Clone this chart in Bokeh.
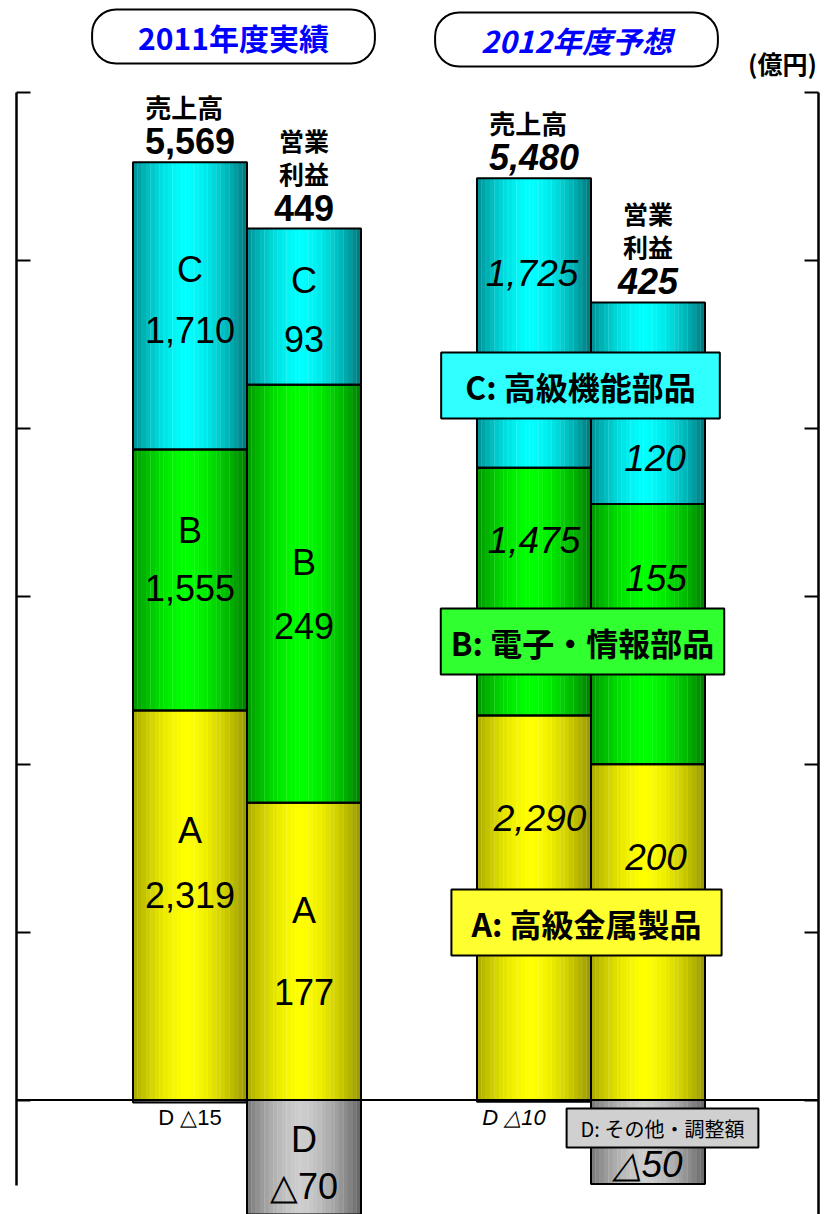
import pandas as pd
from bokeh.plotting import figure
from bokeh.models import ColumnDataSource, Range1d, LinearAxis, FixedTicker, Span, Label
from bokeh.transform import dodge
from bokeh.core.properties import value
from bokeh.embed import file_html
from bokeh.resources import INLINE

# ---------------- data ----------------
years = ["2011年度実績", "2012年度予想"]
measures = ["売上高", "営業利益"]
segments = ["A", "B", "C", "D"]
segment_names = ["高級金属製品", "電子・情報部品", "高級機能部品", "その他・調整額"]
sales_2011 = [2319, 1555, 1710, -15]
profit_2011 = [177, 249, 93, -70]
sales_2012 = [2290, 1475, 1725, -10]
profit_2012 = [200, 155, 120, -50]
unit_label = "(億円)"
tick_values = [0, 1000, 2000, 3000, 4000, 5000, 6000]

# ---------------- layout ----------------
W, H = 827, 1214
FRAME_L, FRAME_R = 16, 818
XU = 114.0                       # px per bar width
Y0PX = 1099.5                    # zero line (px from top)
PXU = (Y0PX - 92) / 6000.0       # px per sales unit
y_start = -(H - Y0PX) / PXU
y_end = Y0PX / PXU


def xdata(px):
    return (px - FRAME_L) / XU


def ydata(px):
    return (Y0PX - px) / PXU


group_center = [xdata(246.5), xdata(590.5)]

bright = {"A": (255, 255, 0), "B": (0, 255, 0), "C": (0, 255, 255), "D": (205, 205, 205)}
dark = {"A": (150, 150, 0), "B": (0, 125, 0), "C": (0, 118, 124), "D": (100, 100, 100)}
NSTRIP = 26


def shade(seg, t):
    b = 1 - (abs(t - 0.47) / 0.53) ** 1.6
    b = max(0.0, min(1.0, b))
    c0, c1 = dark[seg], bright[seg]
    return "#%02x%02x%02x" % tuple(int(round(a + (c - a) * b)) for a, c in zip(c0, c1))


def fmt(v):
    return f"{v:,}" if v >= 0 else "△" + f"{-v:,}"


p = figure(width=W, height=H, x_range=Range1d(0, (FRAME_R - FRAME_L) / XU),
           y_range=Range1d(y_start, y_end), output_backend="svg",
           toolbar_location=None, x_axis_location=None,
           min_border_left=FRAME_L, min_border_right=W - FRAME_R,
           min_border_top=0, min_border_bottom=0)
p.extra_y_ranges = {"profit": Range1d(y_start / 10.0, y_end / 10.0)}
p.xgrid.visible = False
p.ygrid.visible = False
p.outline_line_color = None
p.background_fill_color = "white"
p.border_fill_color = "white"

# axes
lax = p.yaxis[0]
rax = LinearAxis()
p.add_layout(rax, "right")
for ax, bnd in ((lax, (ydata(1185), 6000)), (rax, (y_start, 6000))):
    ax.ticker = FixedTicker(ticks=tick_values)
    ax.bounds = bnd
    ax.axis_line_width = 2.5
    ax.axis_line_color = "black"
    ax.major_tick_line_width = 2
    ax.major_tick_in = 14
    ax.major_tick_out = 0
    ax.minor_tick_line_color = None
    ax.major_label_text_font_size = "0px"
    ax.major_label_text_color = None
    ax.major_label_standoff = 0

# ---------------- bars ----------------
series = {0: (sales_2011, profit_2011), 1: (sales_2012, profit_2012)}
rows = {0: [], 1: []}
for gi in range(len(years)):
    for mi in range(len(measures)):
        vals = series[gi][mi]
        xc = group_center[gi] + (mi - 0.5)
        cum = 0
        for si, v in enumerate(vals):
            if v >= 0:
                b, t = cum, cum + v
                cum = t
            else:
                b, t = v, 0
            r = dict(xc=xc, bottom=b, top=t, seg=segments[si], val=v, gi=gi, si=si)
            for k in range(NSTRIP):
                r[f"c{k}"] = shade(segments[si], (k + 0.5) / NSTRIP)
            rows[mi].append(r)

for mi, rng in ((0, "default"), (1, "profit")):
    src = ColumnDataSource(pd.DataFrame(rows[mi]))
    for k in range(NSTRIP):
        off = -0.5 + (k + 0.5) / NSTRIP
        p.vbar(x=dodge("xc", off), width=1.06 / NSTRIP, bottom="bottom", top="top",
               fill_color=f"c{k}", line_color=None, source=src, y_range_name=rng)
    p.vbar(x="xc", width=1.0, bottom="bottom", top="top", fill_color=None,
           line_color="black", line_width=2, source=src, y_range_name=rng)

p.add_layout(Span(location=0, dimension="width", line_color="black", line_width=2))

# ---------------- texts ----------------
NUMF = "Liberation Sans"
JPF = "Noto Sans CJK JP"


def txt(x, y, s, size, style="normal", font=NUMF, yoff=0, xoff=0, rng="default"):
    p.text(x=[x], y=[y], text=[s], text_font=value(font), text_font_size=f"{size}px",
           text_font_style=style, text_align="center", text_baseline="middle",
           x_offset=xoff, y_offset=yoff, text_color="black", y_range_name=rng)


# in-bar offsets (px): 2011 -> (letter, number); 2012 -> number only
off2011 = {0: {"A": (-75, -10), "B": (-50, 8), "C": (-36, 24)},
           1: {"A": (-41, 41), "B": (-31, 32), "C": (-26, 32), "D": (-19, 28)}}
off2012 = {0: {"A": (-90, 6), "B": (-52, 0), "C": (-50, -2)},
           1: {"A": (-75, 8), "B": (-56, 8), "C": (55, 7), "D": (23, 0)}}

for mi in range(2):
    rng = "default" if mi == 0 else "profit"
    for r in rows[mi]:
        mid = (r["bottom"] + r["top"]) / 2.0
        seg, v = r["seg"], r["val"]
        if r["gi"] == 0:
            if mi == 0 and seg == "D":
                txt(r["xc"], 0, f"{seg} {fmt(v)}", 22, yoff=17.5, rng=rng)
                continue
            lo, no = off2011[mi][seg]
            txt(r["xc"], mid, seg, 36, yoff=lo, rng=rng)
            txt(r["xc"], mid, fmt(v), 36, yoff=no, rng=rng)
        else:
            if mi == 0 and seg == "D":
                txt(r["xc"], 0, f"{seg} {fmt(v)}", 22, style="italic", yoff=17.5, xoff=-20, rng=rng)
                continue
            yo, xo = off2012[mi][seg]
            txt(r["xc"], mid, fmt(v), 37, style="italic", yoff=yo, xoff=xo, rng=rng)

# totals above bars
for gi in range(len(years)):
    for mi in range(len(measures)):
        rng = "default" if mi == 0 else "profit"
        vals = series[gi][mi]
        top = sum(v for v in vals if v > 0)
        total = sum(vals)
        xc = group_center[gi] + (mi - 0.5)
        nstyle = "bold" if gi == 0 else "bold italic"
        txt(xc, top, fmt(total), 36, style=nstyle, yoff=-21, rng=rng)
        if mi == 0:
            txt(xc - 0.05, top, measures[mi], 26, style="bold", font=JPF, yoff=-56, rng=rng)
        else:
            txt(xc, top, measures[mi][:2], 25, style="bold", font=JPF, yoff=-89, rng=rng)
            txt(xc, top, measures[mi][2:], 25, style="bold", font=JPF, yoff=-56, rng=rng)

# year title pills
for gi, (cx, cy, st) in enumerate(((233, 36, "bold"), (576, 39, "bold italic"))):
    p.add_layout(Label(x=xdata(cx), y=ydata(cy), text=years[gi], text_font=JPF,
                       text_font_size="30px", text_font_style=st, text_color="#0000ff",
                       text_align="center", text_baseline="middle",
                       background_fill_color="white", border_line_color="black",
                       border_line_width=2, border_radius=24,
                       padding=dict(left=46, right=46, top=5, bottom=5)))

p.add_layout(Label(x=xdata(782), y=ydata(62), text=unit_label, text_font=JPF,
                   text_font_size="25px", text_font_style="bold", text_color="black",
                   text_align="center", text_baseline="middle"))

# segment legend boxes
box_specs = [("A", 586, 922, "#ffff30", 32, "bold", 20, 10),
             ("B", 582, 641, "#30ff30", 32, "bold", 10, 10),
             ("C", 580, 385, "#30ffff", 32, "bold", 24, 10),
             ("D", 662, 1127.5, "#d0d0d0", 20, "normal", 14, 5)]
for seg, cx, cy, col, fs, st, ph, pv in box_specs:
    name = segment_names[segments.index(seg)]
    p.add_layout(Label(x=xdata(cx), y=ydata(cy), text=f"{seg}: {name}", text_font=JPF,
                       text_font_size=f"{fs}px", text_font_style=st, text_color="black",
                       text_align="center", text_baseline="middle",
                       background_fill_color=col, border_line_color="black",
                       border_line_width=2,
                       padding=dict(left=ph, right=ph, top=pv, bottom=pv)))

open("out.html", "w").write(file_html(p, INLINE))
